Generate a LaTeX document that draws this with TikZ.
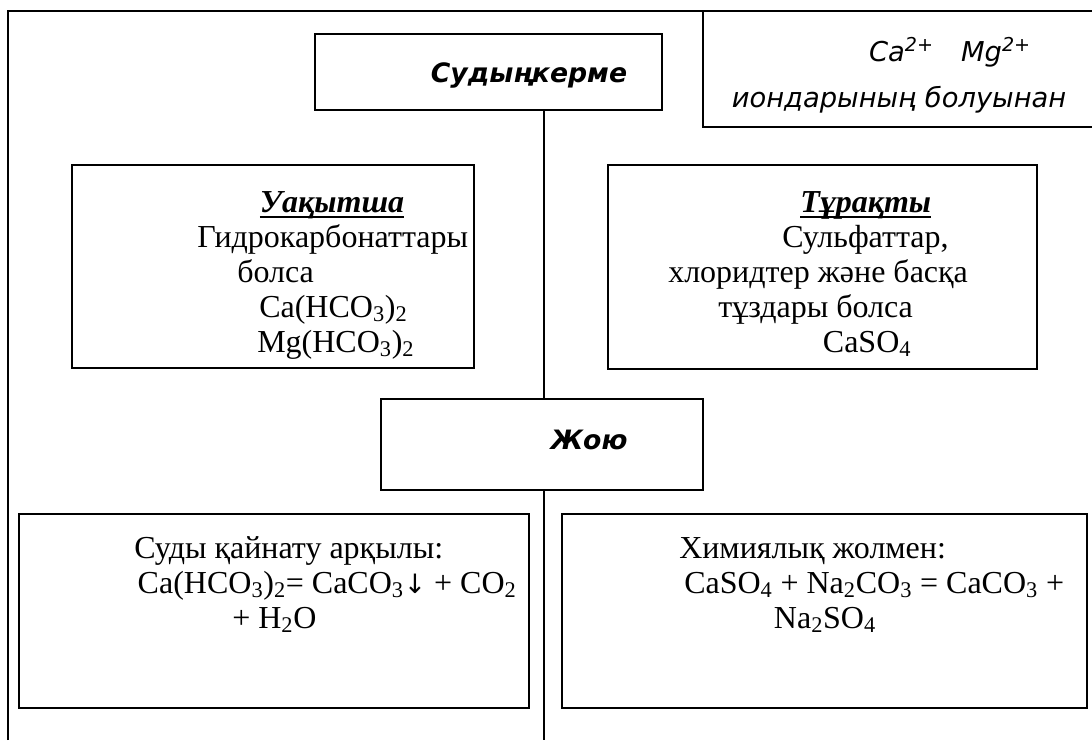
\documentclass[tikz,border=0pt]{standalone}
\usepackage{fontspec}
\setmainfont{Liberation Serif}
\newfontfamily\handfont{DejaVu Sans}
\newcommand\thickul[1]{\leavevmode\setbox0=\hbox{#1}\rlap{\vrule width\wd0 height -3pt depth 4.5pt}\box0}
\newcommand\downarr{{\handfont\fontsize{20}{24}\selectfont ↓}}
\usetikzlibrary{fit,calc}
\tikzset{
  box/.style={draw, line width=1.2pt, inner sep=0pt},
  rule/.style={line width=1pt},
  body/.style={inner sep=0pt, anchor=base west, align=left,
    font=\fontsize{24}{26.25}\selectfont},
  hand/.style={inner sep=0pt, font=\handfont\itshape\fontsize{20.5}{24}\selectfont},
  handbold/.style={hand, font=\handfont\itshape\bfseries\fontsize{20}{24}\selectfont}
}

\begin{document}
\begin{tikzpicture}[x=0.75pt, y=-0.75pt]
\useasboundingbox (0,0) rectangle (1092,740);

% outer frame
\draw[rule] (8,740) -- (8,11) -- (1092,11);

% top-right note
\draw[rule] (703,11) -- (703,127) -- (1092,127);
\node[hand] (ions) at (950,52) {Ca\textsuperscript{2+}\quad Mg\textsuperscript{2+}};
\node[hand] (ionsb) at (899,100) {иондарының болуынан};

% title
\node[box, fit={(315,34) (662,110)}] (sudy) {};
\node[handbold] (sudyt) at (529,75) {Судыңкерме};

% two kinds (base = last line)
\node[box, fit={(72,165) (474,368)}] (uaq) {};
\node[body] (uaqt) at (197,352) {%
  \hspace*{47pt}\thickul{\textbf{\textit{Уақытша}}}\\
  Гидрокарбонаттары\\
  \hspace*{30pt}болса\\
  \hspace*{46.5pt}Ca(HCO\textsubscript{3})\textsubscript{2}\\
  \hspace*{45pt}Mg(HCO\textsubscript{3})\textsubscript{2}};

\node[box, fit={(608,165) (1037,369)}] (turaq) {};
\node[body] (turaqt) at (668,352) {%
  \hspace*{99pt}\thickul{\textbf{\textit{Тұрақты}}}\\
  \hspace*{85.5pt}Сульфаттар,\\
  хлоридтер және басқа\\
  \hspace*{37.5pt}тұздары болса\\
  \hspace*{116pt}CaSO\textsubscript{4}};

% removal
\node[box, fit={(381,399) (703,490)}] (zhoyu) {};
\node[handbold] (zhoyut) at (589,440) {Жою};

\node[box, fit={(19,514) (529,708)}] (qainat) {};
\node[body] (qainatt) at (134,628) {%
  Суды қайнату арқылы:\\
  \hspace*{2.6pt}Ca(HCO\textsubscript{3})\textsubscript{2}= CaCO\textsubscript{3}\downarr{} + CO\textsubscript{2}\\
  \hspace*{73.5pt}+ H\textsubscript{2}O};

\node[box, fit={(562,514) (1087,708)}] (khim) {};
\node[body] (khimt) at (679,628) {%
  Химиялық жолмен:\\
  \hspace*{3.75pt}CaSO\textsubscript{4} + Na\textsubscript{2}CO\textsubscript{3} = CaCO\textsubscript{3} +\\
  \hspace*{71pt}Na\textsubscript{2}SO\textsubscript{4}};

% trunk
\coordinate (trunk) at (544,0);
\coordinate (foot) at (544,740);
\draw[rule] (sudy.south -| trunk) -- (zhoyu.north -| trunk);
\draw[rule] (zhoyu.south -| trunk) -- (foot);

\end{tikzpicture}
\end{document}
